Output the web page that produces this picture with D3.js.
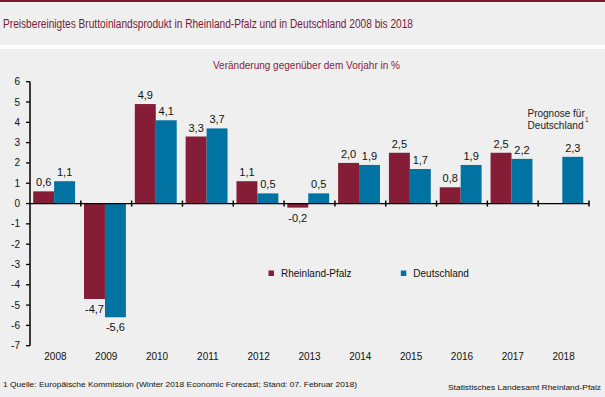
<!DOCTYPE html>
<html><head><meta charset="utf-8">
<script src="https://cdn.jsdelivr.net/npm/d3@7"></script>
<style>
html,body{margin:0;padding:0;background:#eeefee;}
svg{display:block;font-family:"Liberation Sans",Arial,sans-serif;}
</style></head>
<body><svg id="c" width="605" height="397"></svg>
<script>
const years = ["2008","2009","2010","2011","2012","2013","2014","2015","2016","2017","2018"];
const rlp = [0.6,-4.7,4.9,3.3,1.1,-0.2,2.0,2.5,0.8,2.5,null];
const de  = [1.1,-5.6,4.1,3.7,0.5,0.5,1.9,1.7,1.9,2.2,2.3];
const yTicks = [6,5,4,3,2,1,0,-1,-2,-3,-4,-5,-6,-7];
const seriesNames = ["Rheinland-Pfalz","Deutschland"];
const colors = ["#841d35","#0073a3"];

const svg = d3.select("#c");
svg.append("rect").attr("x",0).attr("y",0).attr("width",605).attr("height",397).attr("fill","#eeefee");
svg.append("rect").attr("x",0).attr("y",0).attr("width",605).attr("height",2).attr("fill","#7d1a33");
svg.append("rect").attr("x",0).attr("y",45).attr("width",605).attr("height",4).attr("fill","#ffffff");

svg.append("text").attr("x",3).attr("y",28).attr("font-size",12).attr("fill","#7a1838")
  .attr("textLength",410).attr("lengthAdjust","spacingAndGlyphs")
  .text("Preisbereinigtes Bruttoinlandsprodukt in Rheinland-Pfalz und in Deutschland 2008 bis 2018");
svg.append("text").attr("x",213).attr("y",69).attr("font-size",10).attr("fill","#8a1a3c")
  .attr("textLength",187).attr("lengthAdjust","spacingAndGlyphs")
  .text("Veränderung gegenüber dem Vorjahr in %");

const x = d3.scaleBand().domain(years).range([30,589]).padding(0);
const y = d3.scaleLinear().domain([-7,6]).range([345.7,81.7]);

const bw = x.bandwidth();
const off = bw*0.063, barW = bw*0.412;
const fmt = v => v.toFixed(1).replace(".",",");

// bars
years.forEach((yr,i)=>{
  [rlp[i],de[i]].forEach((v,s)=>{
    if(v===null) return;
    const bx = x(yr)+off+s*barW;
    svg.append("rect").attr("x",bx).attr("width",barW)
      .attr("y",Math.min(y(v),y(0))).attr("height",Math.abs(y(v)-y(0)))
      .attr("fill",colors[s]);
    svg.append("text").attr("x",bx+barW/2)
      .attr("y", v>=0 ? y(v)-5 : y(v)+14)
      .attr("text-anchor","middle").attr("font-size",11).attr("fill","#111")
      .text(fmt(v));
  });
});

// y axis
const ya = svg.append("g");
ya.append("line").attr("x1",30).attr("x2",30).attr("y1",y(6)).attr("y2",y(-7)).attr("stroke","#000").attr("stroke-width",1.5);
yTicks.forEach(t=>{
  ya.append("line").attr("x1",26).attr("x2",30).attr("y1",y(t)).attr("y2",y(t)).attr("stroke","#000").attr("stroke-width",1.3);
  ya.append("text").attr("x",20).attr("y",y(t)+3.5).attr("text-anchor","end").attr("font-size",10).attr("fill","#111").text(String(t));
});

// x axis
const xa = svg.append("g");
xa.append("line").attr("x1",30).attr("x2",589).attr("y1",y(0)).attr("y2",y(0)).attr("stroke","#000").attr("stroke-width",1.3);
years.forEach((yr,i)=>{
  const tx = x(yr)+bw;
  xa.append("line").attr("x1",tx).attr("x2",tx).attr("y1",y(0)-3).attr("y2",y(0)+3).attr("stroke","#000").attr("stroke-width",1.5);
  xa.append("text").attr("x",x(yr)+bw/2).attr("y",360).attr("text-anchor","middle").attr("font-size",10).attr("fill","#111").text(yr);
});

// legend
const legX = [268.5,400.8];
seriesNames.forEach((n,s)=>{
  svg.append("rect").attr("x",legX[s]).attr("y",270.5).attr("width",5.5).attr("height",5.5).attr("fill",colors[s]);
  svg.append("text").attr("x",legX[s]+12.5).attr("y",277).attr("font-size",10).attr("fill","#111").text(n);
});

// Prognose note
svg.append("text").attr("x",527.5).attr("y",117).attr("font-size",10).attr("fill","#222").text("Prognose für");
svg.append("text").attr("x",527.5).attr("y",128.5).attr("font-size",10).attr("fill","#222")
  .attr("textLength",56).attr("lengthAdjust","spacingAndGlyphs").text("Deutschland");
svg.append("text").attr("x",585).attr("y",122).attr("font-size",6.5).attr("fill","#222").text("1");

// footer
svg.append("text").attr("x",3).attr("y",387).attr("font-size",8).attr("fill","#111")
  .attr("textLength",354).attr("lengthAdjust","spacingAndGlyphs")
  .text("1 Quelle: Europäische Kommission (Winter 2018 Economic Forecast; Stand: 07. Februar 2018)");
svg.append("text").attr("x",448).attr("y",390).attr("font-size",8).attr("fill","#111")
  .attr("textLength",153).attr("lengthAdjust","spacingAndGlyphs")
  .text("Statistisches Landesamt Rheinland-Pfalz");
</script></body></html>
